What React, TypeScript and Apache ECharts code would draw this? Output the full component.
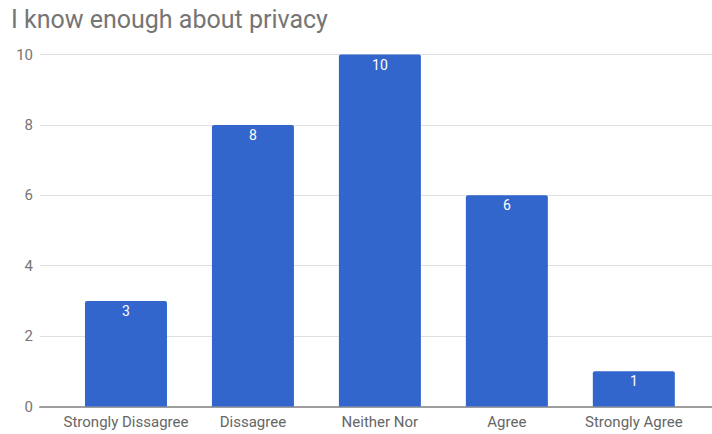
import React, { useEffect, useRef } from "react";
import * as echarts from "echarts";

const title = "I know enough about privacy";
const categories = ["Strongly Dissagree", "Dissagree", "Neither Nor", "Agree", "Strongly Agree"];
const values = [3, 8, 10, 6, 1];
const yMin = 0;
const yMax = 10;
const yInterval = 2;

export default function App() {
  const ref = useRef<HTMLDivElement>(null);
  useEffect(() => {
    if (!ref.current) return;
    const chart = echarts.init(ref.current, null, { renderer: "svg" });
    const font = "Roboto, 'Noto Sans', sans-serif";
    chart.setOption({
      animation: false,
      backgroundColor: "#ffffff",
      title: {
        text: title,
        left: 6,
        top: 2,
        textStyle: { fontFamily: font, fontSize: 25, fontWeight: "normal", color: "#757575" },
      },
      grid: [
        { left: 40, right: 0, top: 54.5, bottom: 27.5 },
        { left: 62.5, right: 14.7, top: 54.5, bottom: 27.5 },
      ],
      xAxis: [
        {
          gridIndex: 0,
          type: "value",
          min: 0,
          max: 1,
          axisLine: { show: true, onZero: false, lineStyle: { color: "#9e9e9e", width: 2 } },
          axisTick: { show: false },
          axisLabel: { show: false },
          splitLine: { show: false },
        },
        {
          gridIndex: 1,
          type: "category",
          data: categories,
          axisLine: { show: false },
          axisTick: { show: false },
          axisLabel: { interval: 0, fontFamily: font, fontSize: 15, color: "#666666", margin: 8 },
        },
      ],
      yAxis: [
        {
          gridIndex: 0,
          type: "value",
          min: yMin,
          max: yMax,
          interval: yInterval,
          axisLine: { show: false },
          axisTick: { show: false },
          axisLabel: { fontFamily: font, fontSize: 15, color: "#757575", margin: 7 },
          splitLine: { lineStyle: { color: "#e0e0e0", width: 1 } },
        },
        {
          gridIndex: 1,
          type: "value",
          min: yMin,
          max: yMax,
          interval: yInterval,
          show: false,
        },
      ],
      series: [
        {
          type: "bar",
          xAxisIndex: 1,
          yAxisIndex: 1,
          data: values,
          barWidth: 82,
          itemStyle: { color: "#3366cc", borderRadius: [2, 2, 0, 0] },
          label: {
            show: true,
            position: "insideTop",
            distance: 3,
            color: "#ffffff",
            fontFamily: font,
            fontSize: 14,
          },
        },
      ],
    });
    return () => chart.dispose();
  }, []);
  return <div ref={ref} style={{ width: 712, height: 434, position: "fixed", left: 0, top: 0 }} />;
}
